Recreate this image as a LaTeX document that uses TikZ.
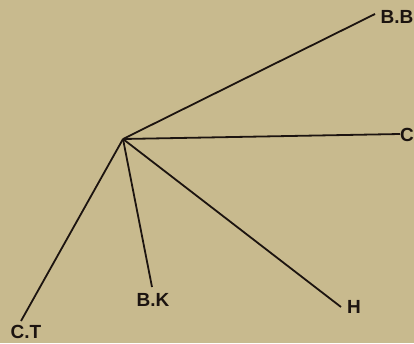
\documentclass[tikz,border=0pt]{standalone}
\usepackage{fontspec}
\setmainfont{Liberation Sans}
\usepackage{tikz}
\usetikzlibrary{calc}
\definecolor{paper}{RGB}{200,186,142}
\definecolor{ink}{RGB}{28,20,16}

\begin{document}
\begin{tikzpicture}[x=1pt,y=-1pt,
  ray/.style={ink,line width=1.8pt},
  lbl/.style={ink,font=\fontsize{19}{19}\selectfont\bfseries,inner sep=0pt}]
\useasboundingbox (0,0) rectangle (414,343);
\fill[paper] (0,0) rectangle (414,343);
% centre of the fan
\coordinate (hub) at (123,139);
% free ends of the rays
\coordinate (eBB) at (375,14);
\coordinate (eC) at (400,134);
\coordinate (eH) at (341,307);
\coordinate (eBK) at (152,287);
\coordinate (eCT) at (21,321);
\node[lbl] (bb) at (397,17) {B.B};
\node[lbl] (c) at (407,135) {C};
\node[lbl] (h) at (354,307) {H};
\node[lbl] (bk) at (153,300) {B.K};
\node[lbl] (ct) at (26,332) {C.T};
\draw[ray] (hub) -- (eBB);
\draw[ray] (hub) -- (eC);
\draw[ray] (hub) -- (eH);
\draw[ray] (hub) -- (eBK);
\draw[ray] (hub) -- (eCT);
\end{tikzpicture}
\end{document}
